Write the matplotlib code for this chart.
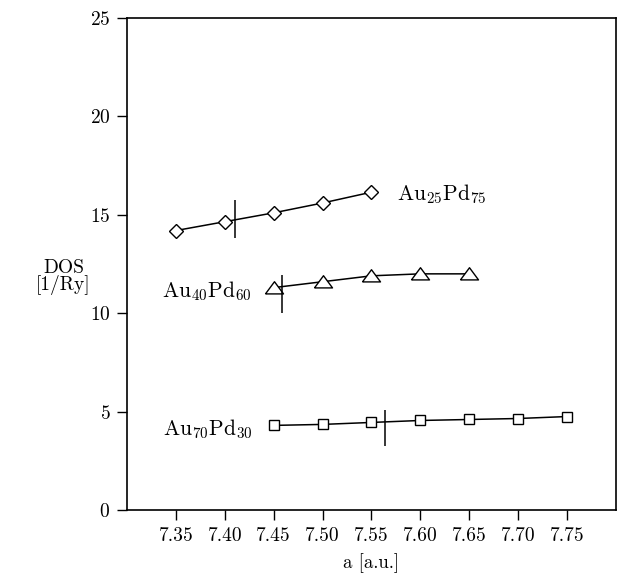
import numpy as np
import matplotlib
matplotlib.use("Agg")
import matplotlib.pyplot as plt

plt.rcParams['font.family'] = 'cmr10'
plt.rcParams['mathtext.fontset'] = 'cm'
plt.rcParams['axes.formatter.use_mathtext'] = True

# ==============================
# data
# ==============================
a_2575 = [7.35, 7.40, 7.45, 7.50, 7.55]
dos_2575 = [14.2, 14.65, 15.1, 15.6, 16.15]

a_4060 = [7.45, 7.50, 7.55, 7.60, 7.65]
dos_4060 = [11.3, 11.6, 11.9, 12.0, 12.0]

a_7030 = [7.45, 7.50, 7.55, 7.60, 7.65, 7.70, 7.75]
dos_7030 = [4.3, 4.35, 4.45, 4.55, 4.6, 4.65, 4.75]

# vertical bars marking the equilibrium lattice constant
bar_a = [7.41, 7.459, 7.564]
bar_lo = [13.8, 10.0, 3.25]
bar_hi = [15.75, 11.95, 5.1]

labels = [r'$\mathrm{Au}_{25}\mathrm{Pd}_{75}$',
          r'$\mathrm{Au}_{40}\mathrm{Pd}_{60}$',
          r'$\mathrm{Au}_{70}\mathrm{Pd}_{30}$']
label_pos = [(7.576, 15.75), (7.336, 10.82), (7.337, 3.81)]

xticks = [7.35, 7.40, 7.45, 7.50, 7.55, 7.60, 7.65, 7.70, 7.75]
yticks = [0, 5, 10, 15, 20, 25]

# wide, flat triangle like in the original
tri = [(-1.0, -0.6), (1.0, -0.6), (0.0, 0.75), (-1.0, -0.6)]

fig = plt.figure(figsize=(6.18, 5.75), dpi=100)
ax = fig.add_axes([0.2055, 0.113, 0.791, 0.8557])

common = dict(color='black', lw=1.1, mfc='white', mec='black', mew=1.0)
ax.plot(a_2575, dos_2575, marker='D', ms=7.5, **common)
ax.plot(a_4060, dos_4060, marker=tri, ms=13, **common)
ax.plot(a_7030, dos_7030, marker='s', ms=7, **common)

ax.vlines(bar_a, bar_lo, bar_hi, color='black', lw=1.1)

for lab, (x, y) in zip(labels, label_pos):
    ax.text(x, y, lab, fontsize=15.5, ha='left', va='baseline')

ax.set_xlim(7.30, 7.80)
ax.set_ylim(0, 25)
ax.set_xticks(xticks)
ax.set_xticklabels([f'{t:.2f}' for t in xticks])
ax.set_yticks(yticks)
ax.tick_params(direction='out', length=7, width=1, labelsize=14, pad=5)

ax.set_xlabel('a [a.u.]', fontsize=13.5, labelpad=6)
ax.set_ylabel('DOS\n[1/Ry]', fontsize=14, rotation=0, labelpad=30,
              linespacing=0.9)
ax.yaxis.set_label_coords(-0.13, 0.437)

for s in ax.spines.values():
    s.set_linewidth(1.2)

fig.savefig('out.png', dpi=100)
